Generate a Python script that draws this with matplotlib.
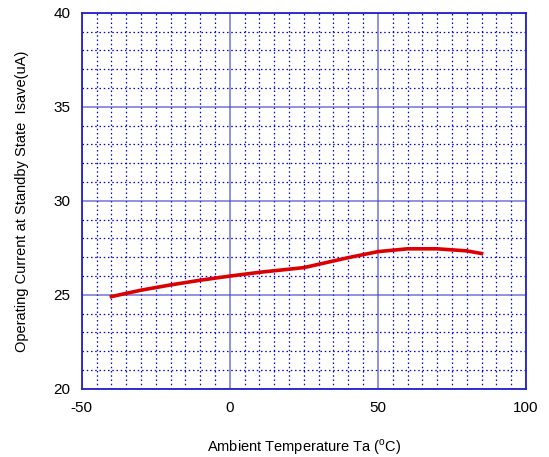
import matplotlib
matplotlib.use('Agg')
import numpy as np
import matplotlib.pyplot as plt
from matplotlib.ticker import MultipleLocator

temp = [-40, -30, -20, -10, 0, 10, 25, 40, 50, 60, 70, 80, 85]
current = [24.91, 25.25, 25.53, 25.78, 26.0, 26.2, 26.45, 26.98, 27.3, 27.45, 27.45, 27.34, 27.2]

plt.rcParams['font.family'] = ['Liberation Sans', 'DejaVu Sans']
plt.rcParams['mathtext.fontset'] = 'custom'
plt.rcParams['mathtext.rm'] = 'Liberation Sans'
plt.rcParams['axes.unicode_minus'] = False

fig = plt.figure(figsize=(5.49, 4.57), dpi=100)
ax = fig.add_axes([0.149, 0.149, 0.809, 0.823])

ax.plot(temp, current, color='#dd0000', lw=2.6, zorder=3)

ax.set_xlim(-50, 100)
ax.set_ylim(20, 40)
ax.xaxis.set_major_locator(MultipleLocator(50))
ax.xaxis.set_minor_locator(MultipleLocator(5))
ax.yaxis.set_major_locator(MultipleLocator(5))
ax.yaxis.set_minor_locator(MultipleLocator(1))

ax.grid(which='major', color='#4444cc', lw=1.1, alpha=0.75)
ax.grid(which='minor', color='#0000dd', lw=0.9, ls=(0, (1.2, 2.2)))
ax.tick_params(which='both', length=0, labelsize=11)
ax.tick_params(axis='x', pad=9)
ax.tick_params(axis='y', pad=8)
for s in ax.spines.values():
    s.set_color('#2222cc')
    s.set_linewidth(1.3)

ax.set_xlabel(r'Ambient Temperature Ta ($^{\mathrm{o}}$C)', fontsize=10.5, labelpad=16)
ax.set_ylabel('Operating Current at Standby State  Isave(uA)', fontsize=10.5, labelpad=18)

fig.savefig('out.png', dpi=100)
